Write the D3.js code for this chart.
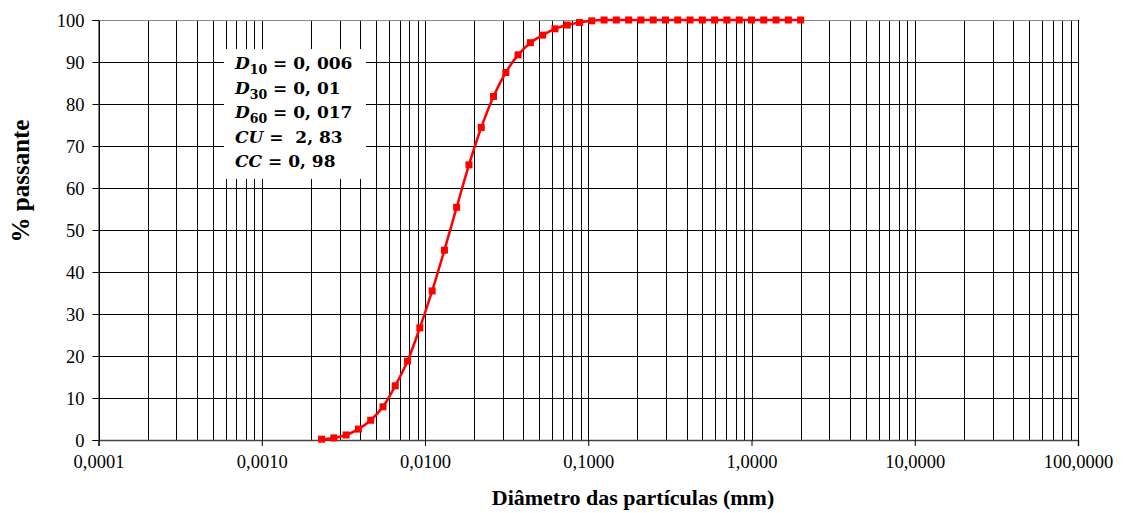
<!DOCTYPE html>
<html>
<head>
<meta charset="utf-8">
<script src="https://cdn.jsdelivr.net/npm/d3@7/dist/d3.min.js"></script>
<style>
  html, body { margin: 0; padding: 0; background: #fff; }
  svg { display: block; }
  .tick-label { font-family: "Liberation Serif", "Times New Roman", serif; font-size: 18.5px; fill: #000; }
  .axis-title { font-family: "Liberation Serif", "Times New Roman", serif; font-weight: bold; fill: #000; }
  .note { font-family: "DejaVu Serif", serif; font-weight: bold; font-size: 17px; fill: #000; }
</style>
</head>
<body>
<svg id="chart" width="1125" height="513"></svg>
<script>
// Particle-size distribution (mm vs % passing)
const diameters = [
  0.002325, 0.002764, 0.003287, 0.003909, 0.004649, 0.005528, 0.006574, 0.007817,
  0.009297, 0.01106, 0.01315, 0.01563, 0.01859, 0.02211, 0.02629, 0.03126,
  0.03718, 0.04421, 0.05257, 0.06252, 0.07434, 0.08841, 0.1051, 0.1250,
  0.1486, 0.1767, 0.2102, 0.2499, 0.2972, 0.3534, 0.4203, 0.4998,
  0.5944, 0.7068, 0.8407, 0.9995, 1.189, 1.414, 1.681, 2.0
];
const passing = [
  0.2, 0.5, 1.2, 2.6, 4.7, 7.9, 12.9, 18.8,
  26.7, 35.5, 45.2, 55.4, 65.5, 74.4, 81.8, 87.5,
  91.7, 94.6, 96.4, 97.9, 98.8, 99.4, 99.8, 100,
  100, 100, 100, 100, 100, 100, 100, 100,
  100, 100, 100, 100, 100, 100, 100, 100
];
const xDecades = [0.0001, 0.001, 0.01, 0.1, 1, 10, 100];
const xTickLabels = ["0,0001", "0,0010", "0,0100", "0,1000", "1,0000", "10,0000", "100,0000"];
const yTicks = [0, 10, 20, 30, 40, 50, 60, 70, 80, 90, 100];

const svg = d3.select("#chart");
const mLeft = 98.5, mRight = 1078, mTop = 20, mBottom = 440;

const x = d3.scaleLog().domain([0.0001, 100]).range([mLeft, mRight]);
const y = d3.scaleLinear().domain([0, 100]).range([mBottom, mTop]);

// minor + major vertical grid lines (1..9 per decade)
const minor = [];
xDecades.slice(0, -1).forEach(d => { for (let k = 1; k <= 9; k++) minor.push(d * k); });
minor.push(100);

const grid = svg.append("g");
grid.selectAll("line.v").data(minor).enter().append("line")
  .attr("x1", d => Math.round(x(d)) + 0.5).attr("x2", d => Math.round(x(d)) + 0.5)
  .attr("y1", mTop).attr("y2", mBottom)
  .attr("stroke", "#000").attr("stroke-width", 1);

grid.selectAll("line.h").data(yTicks).enter().append("line")
  .attr("x1", mLeft).attr("x2", mRight)
  .attr("y1", d => Math.round(y(d)) + 0.5).attr("y2", d => Math.round(y(d)) + 0.5)
  .attr("stroke", d => d === 100 ? "#888" : "#000").attr("stroke-width", 1);

// axes (ticks + labels)
const yAxis = d3.axisLeft(y).tickValues(yTicks).tickSize(6).tickFormat(d3.format("d"));
const gy = svg.append("g").attr("transform", `translate(${mLeft},0)`).call(yAxis);
gy.select(".domain").attr("stroke", "#000");
gy.selectAll(".tick line").attr("stroke", "#000");
gy.selectAll(".tick text").attr("class", "tick-label").attr("x", -14).attr("dy", "0.34em");

const xAxis = d3.axisBottom(x).tickValues(xDecades).tickSize(6)
  .tickFormat((d, i) => xTickLabels[i]);
const gx = svg.append("g").attr("transform", `translate(0,${mBottom})`).call(xAxis);
gx.select(".domain").attr("stroke", "#444").attr("stroke-width", 1.5);
gx.selectAll(".tick line").attr("stroke", "#000");
gx.selectAll(".tick text").attr("class", "tick-label").attr("y", 15).attr("dy", "0.71em");

// note box with the gradation parameters
const note = svg.append("g");
note.append("rect").attr("x", 224).attr("y", 49).attr("width", 142).attr("height", 130).attr("fill", "#fff");
const lines = [
  { v: "D", s: "10", rest: " = 0, 006" },
  { v: "D", s: "30", rest: " = 0, 01" },
  { v: "D", s: "60", rest: " = 0, 017" },
  { v: "CU", s: "", rest: " =  2, 83" },
  { v: "CC", s: "", rest: " = 0, 98" }
];
lines.forEach((l, i) => {
  const t = note.append("text").attr("class", "note").attr("x", 235).attr("y", 69 + i * 24.5);
  t.append("tspan").attr("font-style", "italic").text(l.v);
  if (l.s) t.append("tspan").attr("font-size", "12.5px").attr("dy", 5).text(l.s);
  t.append("tspan").attr("dy", l.s ? -5 : 0).attr("xml:space", "preserve").text(l.rest);
});

// curve and markers
const pts = diameters.map((d, i) => [d, passing[i]]);
const line = d3.line().x(d => x(d[0])).y(d => y(d[1])).curve(d3.curveCatmullRom.alpha(0.5));
svg.append("path").datum(pts).attr("d", line)
  .attr("fill", "none").attr("stroke", "#ff0000").attr("stroke-width", 2.5);
svg.append("g").selectAll("rect").data(pts).enter().append("rect")
  .attr("x", d => x(d[0]) - 3.5).attr("y", d => y(d[1]) - 3.5)
  .attr("width", 7).attr("height", 7).attr("fill", "#ff0000");

// axis titles
svg.append("text").attr("class", "axis-title").attr("font-size", "22px")
  .attr("text-anchor", "middle").attr("x", 633).attr("y", 505)
  .text("Diâmetro das partículas (mm)");
svg.append("text").attr("class", "axis-title").attr("font-size", "25px")
  .attr("text-anchor", "middle")
  .attr("transform", `translate(29,181) rotate(-90)`)
  .text("% passante");
</script>
</body>
</html>
